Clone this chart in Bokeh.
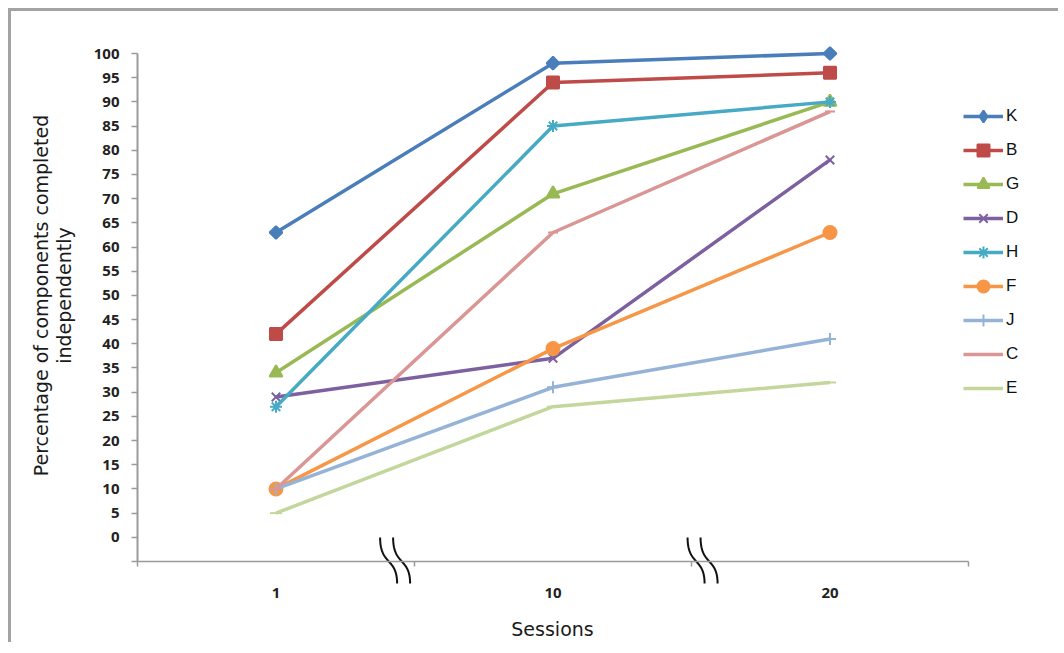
import numpy as np
from math import pi
from bokeh.plotting import figure
from bokeh.models import Range1d, FixedTicker, Legend, LegendItem, Label
from bokeh.embed import file_html
from bokeh.resources import INLINE

# ---------------- data ----------------
sessions = ["1", "10", "20"]
series_names = ["K", "B", "G", "D", "H", "F", "J", "C", "E"]
K = [63, 98, 100]
B = [42, 94, 96]
G = [34, 71, 90]
D = [29, 37, 78]
H = [27, 85, 90]
F = [10, 39, 63]
J = [10, 31, 41]
C = [10, 63, 88]
E = [5, 27, 32]
y_ticks = list(range(-5, 101, 5))
break_positions = [0.93, 2.04]   # axis-break symbols between categories

values = {"K": K, "B": B, "G": G, "D": D, "H": H, "F": F, "J": J, "C": C, "E": E}

# ---------------- styles ----------------
colors = {"K": "#4A7EBB", "B": "#BE4B48", "G": "#98B954", "D": "#7D60A0",
          "H": "#46AAC5", "F": "#F79646", "J": "#95B3D7", "C": "#D99694", "E": "#C3D69B"}
markers = {"K": ("square", 9, pi / 4), "B": ("square", 12, 0), "G": ("triangle", 13, 0),
           "D": ("x", 12, 0), "H": ("asterisk", 12, 0), "F": ("circle", 13, 0),
           "J": ("cross", 12, 0), "C": ("dash", 10, 0), "E": ("dash", 12, 0)}
legend_markers = {"K": "diamond", "B": "square", "G": "triangle", "D": "x", "H": "asterisk",
                  "F": "circle", "J": "cross", "C": "dash", "E": "dash"}

# layout (canvas px); frame covers the whole canvas, axes use fixed locations
W, HT = 1050, 634
AX_LEFT, AX_TOP, AX_RIGHT, AX_BOTTOM = 126, 42, 957, 550   # axis box inside canvas
n_cat = len(sessions)
sx = (AX_RIGHT - AX_LEFT) / n_cat            # px per category
sy = (AX_BOTTOM - AX_TOP) / (100 - (-5))     # px per unit
x_lo = -AX_LEFT / sx
x_hi = x_lo + W / sx
y_hi = 100 + AX_TOP / sy
y_lo = y_hi - HT / sy

p = figure(width=W, height=HT, output_backend="svg", toolbar_location=None,
           x_range=Range1d(x_lo, x_hi), y_range=Range1d(y_lo, y_hi),
           min_border_left=0, min_border_right=0, min_border_top=0, min_border_bottom=0)
p.styles = {"margin-left": "8px", "margin-top": "8px",
            "border-left": "3px solid #a3a3a3", "border-top": "3px solid #a3a3a3"}
p.outline_line_color = None
p.xgrid.visible = False
p.ygrid.visible = False
p.background_fill_color = "white"
p.border_fill_color = "white"

xs = [i + 0.5 for i in range(n_cat)]

# axes
p.xaxis.fixed_location = -5
p.xaxis.bounds = (0, n_cat)
p.xaxis.ticker = FixedTicker(ticks=xs, minor_ticks=list(range(n_cat + 1)))
p.xaxis.major_label_overrides = {x: s for x, s in zip(xs, sessions)}
p.xaxis.major_tick_out = 0
p.xaxis.major_tick_in = 0
p.xaxis.minor_tick_out = 5
p.xaxis.minor_tick_in = 0
p.xaxis.axis_line_color = "#9a9a9a"
p.xaxis.axis_line_width = 1.5
p.xaxis.minor_tick_line_color = "#9a9a9a"
p.xaxis.minor_tick_line_width = 1.5
p.xaxis.major_label_standoff = 21
p.xaxis.major_label_text_font = "Open Sans"
p.xaxis.major_label_text_font_size = "15px"
p.xaxis.major_label_text_font_style = "bold"
p.xaxis.major_label_text_color = "#222222"

p.yaxis.fixed_location = 0
p.yaxis.bounds = (-5, 100)
p.yaxis.ticker = FixedTicker(ticks=y_ticks, minor_ticks=[])
p.yaxis.major_label_overrides = {-5: ""}
p.yaxis.major_tick_out = 6
p.yaxis.major_tick_in = 0
p.yaxis.minor_tick_out = 0
p.yaxis.minor_tick_in = 0
p.yaxis.axis_line_color = "#9a9a9a"
p.yaxis.axis_line_width = 2
p.yaxis.major_tick_line_color = "#9a9a9a"
p.yaxis.major_tick_line_width = 1.5
p.yaxis.major_label_standoff = 12
p.yaxis.major_label_text_font = "Open Sans"
p.yaxis.major_label_text_font_size = "15px"
p.yaxis.major_label_text_font_style = "bold"
p.yaxis.major_label_text_color = "#222222"

# series
items = []
for name in series_names:
    col = colors[name]
    mk, sz, ang = markers[name]
    lr = p.line(xs, values[name], line_color=col, line_width=3.5)
    p.scatter(xs, values[name], marker=mk, size=sz, angle=ang,
              fill_color=col, line_color=col, line_width=2)
    # legend-only marker renderer (a single NaN point, never drawn in the plot)
    lm = p.scatter([np.nan], [np.nan], marker=legend_markers[name], size=12,
                   fill_color=col, line_color=col, line_width=2)
    items.append(LegendItem(label=name, renderers=[lr, lm]))

legend = Legend(items=items, location=(952, 242), orientation="vertical",
                glyph_width=40, glyph_height=30, label_height=30, spacing=4,
                label_standoff=3, padding=0, margin=0,
                border_line_alpha=0, background_fill_alpha=0,
                label_text_font="Liberation Sans", label_text_font_size="17px",
                label_text_color="#111111")
p.add_layout(legend, "center")

# axis titles (screen px relative to frame bottom-left)
for txt, lx in (("Percentage of components completed", 29), ("independently", 52)):
    p.add_layout(Label(x=lx, y=350, x_units="screen", y_units="screen",
                       text=txt, angle=pi / 2,
                       text_align="center", text_baseline="middle",
                       text_font="DejaVu Sans", text_font_size="19px", text_color="#1a1a1a"))
p.add_layout(Label(x=541, y=17, x_units="screen", y_units="screen",
                   text="Sessions", text_align="center", text_baseline="middle",
                   text_font="DejaVu Sans", text_font_size="19px", text_color="#1a1a1a"))

# axis break symbols (decoration): S-curves, px offsets converted to data units
t = np.linspace(0, 1, 30)
for bx in break_positions:
    for dx in (-15, -2):
        P0 = np.array([dx, -24.0]); P1 = np.array([dx, 4.0])
        P2 = np.array([dx + 17, -4.0]); P3 = np.array([dx + 17, 22.0])
        pts = ((1 - t)[:, None] ** 3 * P0 + 3 * ((1 - t) ** 2 * t)[:, None] * P1
               + 3 * ((1 - t) * t ** 2)[:, None] * P2 + (t ** 3)[:, None] * P3)
        cx = bx + pts[:, 0] / sx
        cy = -5 - pts[:, 1] / sy
        p.line(cx, cy, line_color="#111111", line_width=2)

open("out.html", "w").write(file_html(p, INLINE))
